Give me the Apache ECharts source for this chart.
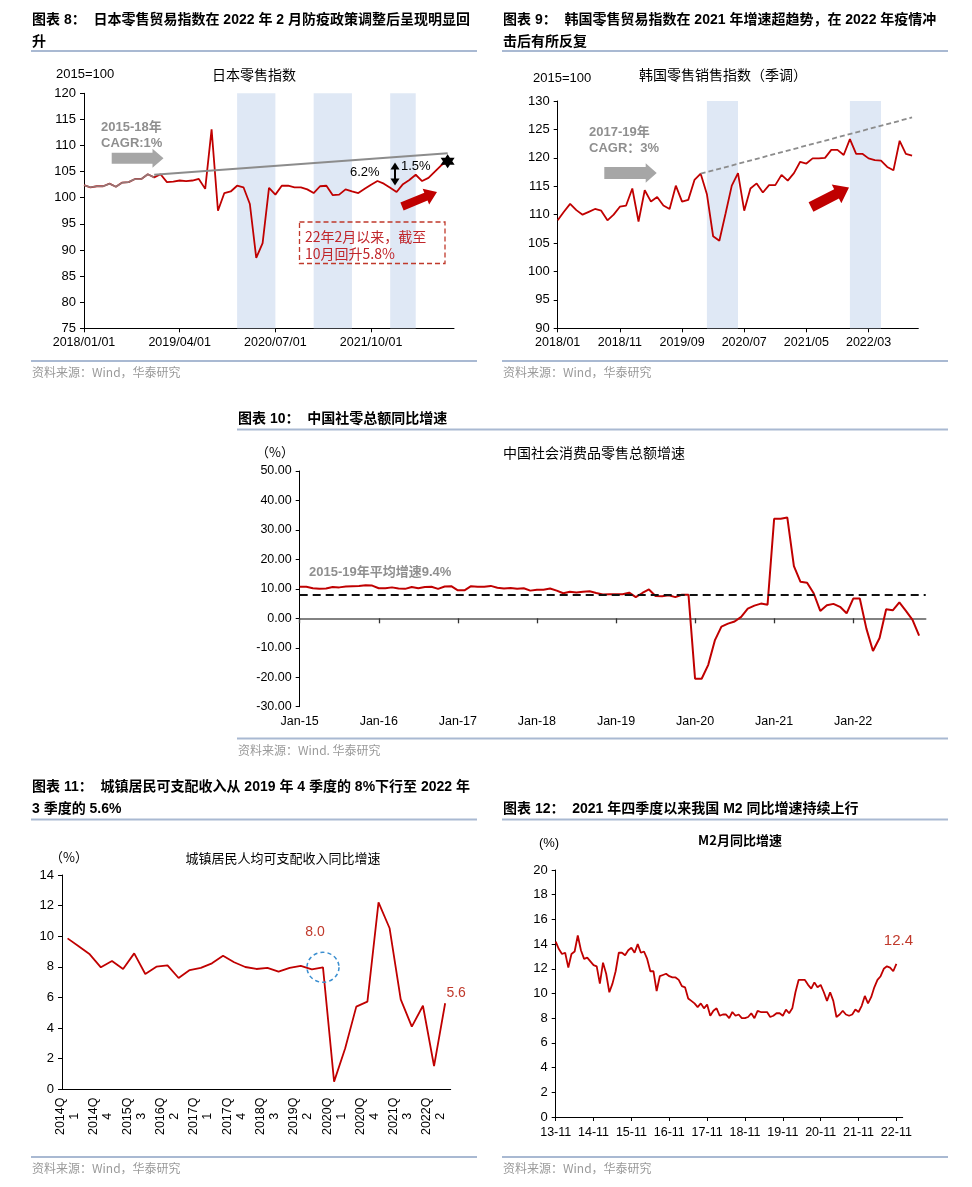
<!DOCTYPE html>
<html><head><meta charset="utf-8">
<script src="https://cdn.jsdelivr.net/npm/echarts@6/dist/echarts.min.js"></script>
<style>html,body{margin:0;padding:0;background:#fff}#c{width:972px;height:1187px}</style>
</head><body><div id="c"></div>
<script>
// ---------- DATA ----------
const pad = n => (n < 10 ? '0' : '') + n;
const MON = ['Jan','Feb','Mar','Apr','May','Jun','Jul','Aug','Sep','Oct','Nov','Dec'];
function months(y0, m0, y1, m1, fmt) { const out = []; let y = y0, m = m0;
  while (y < y1 || (y === y1 && m <= m1)) { out.push(fmt(y, m)); m++; if (m > 12) { m = 1; y++; } } return out; }

// Chart 8: Japan retail index (2015=100)
const jpCategories = months(2018, 1, 2022, 11, (y, m) => `${y}/${pad(m)}/01`);
const japanIndex = [
  102.4, 102.0, 102.2, 102.2, 102.7, 102.1, 102.9, 103.0, 103.6, 103.6, 104.5, 103.9,
  104.5, 103.0, 103.1, 103.3, 103.2, 103.3, 103.6, 101.7, 113.1, 97.5, 100.9, 101.2,
  102.3, 102.0, 98.8, 88.5, 91.3, 101.9, 100.6, 102.3, 102.3, 102.0, 102.0, 101.6,
  100.9, 102.2, 102.3, 100.5, 100.6, 101.6, 101.2, 100.9, 101.7, 102.5, 103.2, 102.7,
  101.9, 101.1, 102.6, 103.4, 104.4, 103.2, 103.8, 105.0, 106.2, 107.0];
const japanTrend = [['2018/12/01', 104.4], ['2022/10/01', 108.5]];
const japanShade = [['2020/01/01', '2020/07/01'], ['2021/01/01', '2021/07/01'], ['2022/01/01', '2022/05/01']];

// Chart 9: Korea retail sales index (SA)
const krCategories = months(2018, 1, 2022, 11, (y, m) => `${y}/${pad(m)}`);
const koreaIndex = [
  109.0, 110.5, 111.9, 110.8, 110.0, 110.5, 111.0, 110.7, 109.0, 110.0, 111.4, 111.6,
  114.6, 108.8, 114.3, 112.3, 113.1, 111.6, 111.0, 115.1, 112.3, 112.6, 116.1, 117.2,
  113.6, 106.2, 105.4, 110.2, 115.1, 117.3, 110.7, 114.6, 115.5, 113.9, 115.2, 115.2,
  117.0, 116.0, 117.3, 119.3, 119.0, 119.9, 119.9, 120.0, 121.4, 121.4, 120.5, 123.3,
  120.7, 120.7, 119.9, 119.6, 119.5, 118.4, 117.8, 123.0, 120.7, 120.4];
const koreaTrend = [['2019/12', 117.2], ['2022/10', 127.1]];
const koreaShade = [['2020/01', '2020/06'], ['2021/12', '2022/05']];

// Chart 10: China retail sales YoY (%)
const cnCategories = months(2015, 1, 2022, 12, (y, m) => `${MON[m - 1]}-${String(y).slice(2)}`);
const cnRetail = [
  10.7, 10.7, 10.2, 10.0, 10.1, 10.6, 10.5, 10.8, 10.9, 11.0, 11.2, 11.1,
  10.2, 10.2, 10.5, 10.1, 10.0, 10.6, 10.2, 10.6, 10.7, 10.0, 10.8, 10.9,
  9.5, 9.5, 10.9, 10.7, 10.7, 11.0, 10.4, 10.1, 10.3, 10.0, 10.2, 9.4,
  9.7, 9.7, 10.1, 9.4, 8.5, 9.0, 8.8, 9.0, 9.2, 8.6, 8.1, 8.2,
  8.2, 8.2, 8.7, 7.2, 8.6, 9.8, 7.6, 7.5, 7.8, 7.2, 8.0, 8.0,
  -20.5, -20.5, -15.8, -7.5, -2.8, -1.8, -1.1, 0.5, 3.3, 4.3, 5.0, 4.6,
  33.8, 33.8, 34.2, 17.7, 12.4, 12.1, 8.5, 2.5, 4.4, 4.9, 3.9, 1.7,
  6.7, 6.7, -3.5, -11.1, -6.7, 3.1, 2.7, 5.4, 2.5, -0.5, -5.9];
const cnAvgLine = 8.0;

// Chart 11: urban per-capita disposable income YoY (%)
const incomeQuarters = [];
for (let y = 2014; y <= 2022; y++) for (let q = 1; q <= 4; q++) if (!(y === 2022 && q > 3)) incomeQuarters.push(`${y}Q${q}`);
const incomeGrowth = [9.86, 9.35, 8.82, 7.97, 8.38, 7.86, 8.88, 7.53, 8.01, 8.10, 7.27, 7.79,
  7.93, 8.23, 8.73, 8.30, 7.99, 7.86, 7.93, 7.69, 7.93, 8.06, 7.84, 7.97,
  0.50, 2.68, 5.40, 5.73, 12.21, 10.52, 5.88, 4.09, 5.46, 1.52, 5.62];

// Chart 12: M2 YoY (%)
const m2Categories = months(2013, 11, 2023, 1, (y, m) => `${String(y).slice(2)}-${pad(m)}`);
const m2Growth = [
  14.2, 13.6,
  13.2, 13.3, 12.1, 13.2, 13.4, 14.7, 13.5, 12.8, 12.9, 12.6, 12.3, 12.2,
  10.8, 12.5, 11.6, 10.1, 10.8, 11.8, 13.3, 13.3, 13.1, 13.5, 13.7, 13.3,
  14.0, 13.3, 13.4, 12.8, 11.8, 11.8, 10.2, 11.4, 11.5, 11.6, 11.4, 11.3,
  11.3, 11.1, 10.6, 10.5, 9.6, 9.4, 9.2, 8.9, 9.2, 8.8, 9.1, 8.2,
  8.6, 8.8, 8.2, 8.3, 8.3, 8.0, 8.5, 8.2, 8.3, 8.0, 8.0, 8.1,
  8.4, 8.0, 8.6, 8.5, 8.5, 8.5, 8.1, 8.2, 8.4, 8.4, 8.2, 8.7,
  8.4, 8.8, 10.1, 11.1, 11.1, 11.1, 10.7, 10.4, 10.9, 10.5, 10.7, 10.1,
  9.4, 10.1, 9.4, 8.1, 8.3, 8.6, 8.3, 8.2, 8.3, 8.7, 8.5, 9.0,
  9.8, 9.2, 9.7, 10.5, 11.1, 11.4, 12.0, 12.2, 12.1, 11.8, 12.4];

// ---------- STYLE ----------
const RED = '#c00000';
const ANN_RED = '#c0392b';
const SHADE = '#dfe8f5';
const SEP = '#a9b9d2';
const FONT = '"Liberation Sans", Arial, "Noto Sans CJK SC", sans-serif';
const CJK = '"Noto Sans CJK SC", "Liberation Sans", sans-serif';

function xCat(gridIndex, data, extra) {
  return Object.assign({
    type: 'category', gridIndex, data, boundaryGap: false,
    axisLine: { onZero: false, lineStyle: { color: '#000', width: 1 } },
    axisTick: { length: 4, lineStyle: { color: '#000' } },
    axisLabel: { color: '#000', fontSize: 12.5, fontFamily: FONT, margin: 8 },
    splitLine: { show: false }
  }, extra);
}
function yVal(gridIndex, min, max, interval, extra) {
  return Object.assign({
    type: 'value', gridIndex, min, max, interval,
    axisLine: { show: true, lineStyle: { color: '#000', width: 1 } },
    axisTick: { show: true, length: 4, lineStyle: { color: '#000' } },
    axisLabel: { color: '#000', fontSize: 13, fontFamily: FONT, margin: 8 },
    splitLine: { show: false }
  }, extra);
}

function txt(x, y, text, opt) {
  opt = opt || {};
  return { type: 'text', z: 50, style: { x, y, text, fill: opt.fill || '#000',
    font: opt.font || `13px ${FONT}`, align: opt.align || 'left', verticalAlign: 'middle' } };
}
function hline(x1, x2, y, color, w) {
  return { type: 'line', z: 50, shape: { x1, y1: y, x2, y2: y }, style: { stroke: color || SEP, lineWidth: w || 2 } };
}
function blockArrow(x1, y1, x2, y2, bw, hw, hl, color) {
  const dx = x2 - x1, dy = y2 - y1, L = Math.hypot(dx, dy), ux = dx / L, uy = dy / L, px = -uy, py = ux;
  const bx = x2 - ux * hl, by = y2 - uy * hl;
  const pts = [[x1 + px * bw / 2, y1 + py * bw / 2], [bx + px * bw / 2, by + py * bw / 2], [bx + px * hw / 2, by + py * hw / 2],
    [x2, y2], [bx - px * hw / 2, by - py * hw / 2], [bx - px * bw / 2, by - py * bw / 2], [x1 - px * bw / 2, y1 - py * bw / 2]];
  return { type: 'polygon', z: 50, shape: { points: pts }, style: { fill: color } };
}
const HFONT = `bold 14px ${FONT}`;
const SRC = '资料来源：Wind，华泰研究';
const SRCFONT = `12px ${CJK}`;

const graphic = [
  // Chart 8 header
  txt(32, 20, '图表 8：  日本零售贸易指数在 2022 年 2 月防疫政策调整后呈现明显回', { font: HFONT }),
  txt(32, 42, '升', { font: HFONT }),
  hline(31, 477, 51),
  txt(56, 74, '2015=100', { font: `13px ${FONT}` }),
  txt(254, 75, '日本零售指数', { font: `14px ${CJK}`, align: 'center' }),
  txt(101, 127, '2015-18年', { font: `bold 13px ${FONT}`, fill: '#8f8f8f' }),
  txt(101, 143, 'CAGR:1%', { font: `bold 13px ${FONT}`, fill: '#8f8f8f' }),
  blockArrow(111.7, 158.3, 163.5, 158.3, 11, 19, 11, '#a6a6a6'),
  blockArrow(402, 206.5, 437, 192, 8.5, 17, 12, '#c00000'),
  txt(350, 172, '6.2%', { font: `13px ${FONT}` }),
  txt(401, 166, '1.5%', { font: `13px ${FONT}` }),
  { type: 'line', z: 50, shape: { x1: 395, y1: 167, x2: 395, y2: 181 }, style: { stroke: '#000', lineWidth: 2 } },
  { type: 'polygon', z: 50, shape: { points: [[395, 162.5], [390.5, 169.5], [399.5, 169.5]] }, style: { fill: '#000' } },
  { type: 'polygon', z: 50, shape: { points: [[395, 185.5], [390.5, 178.5], [399.5, 178.5]] }, style: { fill: '#000' } },
  { type: 'rect', z: 50, shape: { x: 299.5, y: 222, width: 145.5, height: 41.5 },
    style: { fill: 'rgba(255,255,255,0)', stroke: ANN_RED, lineWidth: 1.3, lineDash: [5, 3] } },
  txt(305, 237, '22年2月以来，截至', { font: `14px ${CJK}`, fill: '#c0262b' }),
  txt(305, 254, '10月回升5.8%', { font: `14px ${CJK}`, fill: '#c0262b' }),
  hline(31, 477, 361),
  txt(32, 372, SRC, { font: SRCFONT, fill: '#9a9a9a' }),

  // Chart 9 header
  txt(503, 20, '图表 9：  韩国零售贸易指数在 2021 年增速超趋势，在 2022 年疫情冲', { font: HFONT }),
  txt(503, 42, '击后有所反复', { font: HFONT }),
  hline(502, 948, 51),
  txt(533, 78, '2015=100', { font: `13px ${FONT}` }),
  txt(723, 75, '韩国零售销售指数（季调）', { font: `14px ${CJK}`, align: 'center' }),
  txt(589, 132, '2017-19年', { font: `bold 13px ${FONT}`, fill: '#8f8f8f' }),
  txt(589, 148, 'CAGR：3%', { font: `bold 13px ${FONT}`, fill: '#8f8f8f' }),
  blockArrow(604.3, 173, 656.7, 173, 12, 19.5, 11, '#a6a6a6'),
  blockArrow(811, 207, 849, 187.5, 10.5, 21, 14, '#c00000'),
  hline(502, 948, 361),
  txt(503, 372, SRC, { font: SRCFONT, fill: '#9a9a9a' }),

  // Chart 10 header
  txt(238, 419, '图表 10：  中国社零总额同比增速', { font: HFONT }),
  hline(237, 948, 429.5),
  txt(275, 452, '（%）', { font: `13px ${CJK}`, align: 'center' }),
  txt(594, 453, '中国社会消费品零售总额增速', { font: `14px ${CJK}`, align: 'center' }),
  txt(309, 572, '2015-19年平均增速9.4%', { font: `bold 13px ${FONT}`, fill: '#8f8f8f' }),
  hline(237, 948, 738.5),
  txt(238, 750, '资料来源：Wind. 华泰研究', { font: SRCFONT, fill: '#9a9a9a' }),

  // Chart 11 header
  txt(32, 787, '图表 11：  城镇居民可支配收入从 2019 年 4 季度的 8%下行至 2022 年', { font: HFONT }),
  txt(32, 809, '3 季度的 5.6%', { font: HFONT }),
  hline(31, 477, 819.5),
  txt(69, 857, '（%）', { font: `13px ${CJK}`, align: 'center' }),
  txt(283, 858, '城镇居民人均可支配收入同比增速', { font: `13px ${CJK}`, align: 'center' }),
  hline(31, 477, 1157),
  txt(32, 1168, SRC, { font: SRCFONT, fill: '#9a9a9a' }),

  // Chart 12 header
  txt(503, 809, '图表 12：  2021 年四季度以来我国 M2 同比增速持续上行', { font: HFONT }),
  hline(502, 948, 819.5),
  txt(549, 843, '(%)', { font: `13px ${FONT}`, align: 'center' }),
  txt(740, 840, 'M2月同比增速', { font: `bold 13px ${CJK}`, align: 'center' }),
  hline(502, 948, 1157),
  txt(503, 1168, SRC, { font: SRCFONT, fill: '#9a9a9a' })
];

const STAR = 'path://M0,-10 L2.887,-5 L8.66,-5 L5.774,0 L8.66,5 L2.887,5 L0,10 L-2.887,5 L-8.66,5 L-5.774,0 L-8.66,-5 L-2.887,-5 Z';
const lineBase = { type: 'line', symbol: 'none', silent: true, animation: false };

const option = {
  backgroundColor: '#fff',
  animation: false,
  textStyle: { fontFamily: FONT },
  grid: [
    { left: 84, top: 93.3, width: 370, height: 235, containLabel: false, outerBoundsMode: 'none' },
    { left: 557.7, top: 101, width: 360.6, height: 227.3, containLabel: false, outerBoundsMode: 'none' },
    { left: 299.7, top: 471, width: 626, height: 235.7, containLabel: false, outerBoundsMode: 'none' },
    { left: 62, top: 875, width: 388.7, height: 214.3, containLabel: false, outerBoundsMode: 'none' },
    { left: 555.7, top: 870, width: 347, height: 247, containLabel: false, outerBoundsMode: 'none' }
  ],
  xAxis: [
    xCat(0, jpCategories, { axisTick: { interval: 14, length: 4, lineStyle: { color: '#000' } },
      axisLabel: { interval: 14, color: '#000', fontSize: 12.5, fontFamily: FONT, margin: 8 } }),
    xCat(1, krCategories, { axisTick: { interval: 9, length: 4, lineStyle: { color: '#000' } },
      axisLabel: { interval: 9, color: '#000', fontSize: 12.5, fontFamily: FONT, margin: 8 } }),
    // China: zero line axis with ticks
    xCat(2, cnCategories, { axisLine: { onZero: true, lineStyle: { color: '#595959', width: 1.6 } },
      axisTick: { interval: 11, length: 5, lineStyle: { color: '#333', width: 1.3 } }, axisLabel: { show: false } }),
    // China: label axis at bottom
    xCat(2, cnCategories, { position: 'bottom', axisLine: { show: false, onZero: false }, axisTick: { show: false },
      axisLabel: { interval: 11, color: '#000', fontSize: 12.5, fontFamily: FONT, margin: 9 } }),
    {
      type: 'category', gridIndex: 3, data: incomeQuarters, boundaryGap: true,
      axisLine: { onZero: false, lineStyle: { color: '#000', width: 1 } },
      axisTick: { interval: 3, length: 4, lineStyle: { color: '#000' } },
      axisLabel: { interval: 2, rotate: 90, align: 'center', verticalAlign: 'middle', margin: 27,
        color: '#000', fontSize: 12.5, fontFamily: FONT, lineHeight: 14,
        formatter: v => v.replace('Q', 'Q\n') },
      splitLine: { show: false }
    },
    xCat(4, m2Categories, { axisTick: { interval: 11, length: 4, lineStyle: { color: '#000' } },
      axisLabel: { interval: 11, color: '#000', fontSize: 12.5, fontFamily: FONT, margin: 9 } })
  ],
  yAxis: [
    yVal(0, 75, 120, 5),
    yVal(1, 90, 130, 5),
    yVal(2, -30, 50, 10, { axisLabel: { color: '#000', fontSize: 12.5, fontFamily: FONT, margin: 8, formatter: v => v.toFixed(2) } }),
    yVal(3, 0, 14, 2),
    yVal(4, 0, 20, 2)
  ],
  series: [
    Object.assign({}, lineBase, {
      name: 'japan', xAxisIndex: 0, yAxisIndex: 0, data: japanIndex, z: 3,
      lineStyle: { color: RED, width: 1.8 },
      markArea: { silent: true, itemStyle: { color: SHADE }, data: japanShade.map(s => [{ xAxis: s[0] }, { xAxis: s[1] }]) },
      markPoint: { silent: true, data: [{ coord: [japanIndex.length - 1, japanIndex[japanIndex.length - 1]],
        symbol: STAR, symbolSize: 14, itemStyle: { color: '#000' }, label: { show: false } }] }
    }),
    Object.assign({}, lineBase, {
      name: 'japanHist', xAxisIndex: 0, yAxisIndex: 0, data: japanIndex.slice(0, 12), z: 4,
      lineStyle: { color: '#8c8c8c', width: 1.6, opacity: 0.85 }
    }),
    Object.assign({}, lineBase, {
      name: 'japanTrend', xAxisIndex: 0, yAxisIndex: 0, data: japanTrend, z: 4,
      lineStyle: { color: '#8c8c8c', width: 2 }
    }),
    Object.assign({}, lineBase, {
      name: 'korea', xAxisIndex: 1, yAxisIndex: 1, data: koreaIndex, z: 3,
      lineStyle: { color: RED, width: 1.8 },
      markArea: { silent: true, itemStyle: { color: SHADE }, data: koreaShade.map(s => [{ xAxis: s[0] }, { xAxis: s[1] }]) }
    }),
    Object.assign({}, lineBase, {
      name: 'koreaTrend', xAxisIndex: 1, yAxisIndex: 1, data: koreaTrend, z: 4,
      lineStyle: { color: '#8c8c8c', width: 1.8, type: [5, 3] }
    }),
    Object.assign({}, lineBase, {
      name: 'china', xAxisIndex: 2, yAxisIndex: 2, data: cnRetail, z: 3,
      lineStyle: { color: RED, width: 2 },
      markLine: { silent: true, symbol: 'none', label: { show: false },
        lineStyle: { color: '#111', width: 2, type: [8, 5] }, data: [{ yAxis: cnAvgLine }] }
    }),
    Object.assign({}, lineBase, {
      name: 'income', xAxisIndex: 4, yAxisIndex: 3, data: incomeGrowth, z: 3,
      lineStyle: { color: RED, width: 1.8 },
      markPoint: { silent: true, data: [
        { coord: [23, incomeGrowth[23]], symbol: 'circle', symbolSize: [32, 30],
          itemStyle: { color: 'rgba(0,0,0,0)', borderColor: '#3b8fd0', borderWidth: 1.5, borderType: [4, 3] },
          label: { show: true, position: 'inside', offset: [-8, -35], formatter: '8.0', color: ANN_RED, fontSize: 14, fontFamily: FONT } },
        { coord: [incomeGrowth.length - 1, incomeGrowth[incomeGrowth.length - 1]], symbol: 'circle', symbolSize: 1,
          itemStyle: { color: 'rgba(0,0,0,0)' },
          label: { show: true, position: 'inside', offset: [11, -10], formatter: '5.6', color: ANN_RED, fontSize: 14, fontFamily: FONT } }
      ] }
    }),
    Object.assign({}, lineBase, {
      name: 'm2', xAxisIndex: 5, yAxisIndex: 4, data: m2Growth, z: 3,
      lineStyle: { color: RED, width: 1.8 },
      markPoint: { silent: true, data: [
        { coord: [m2Growth.length - 1, m2Growth[m2Growth.length - 1]], symbol: 'circle', symbolSize: 1,
          itemStyle: { color: 'rgba(0,0,0,0)' },
          label: { show: true, position: 'inside', offset: [2, -23], formatter: '12.4', color: ANN_RED, fontSize: 15, fontFamily: FONT } }
      ] }
    })
  ],
  graphic: graphic
};

const chart = echarts.init(document.getElementById('c'), null, { renderer: 'canvas', width: 972, height: 1187 });
chart.setOption(option);
</script></body></html>
